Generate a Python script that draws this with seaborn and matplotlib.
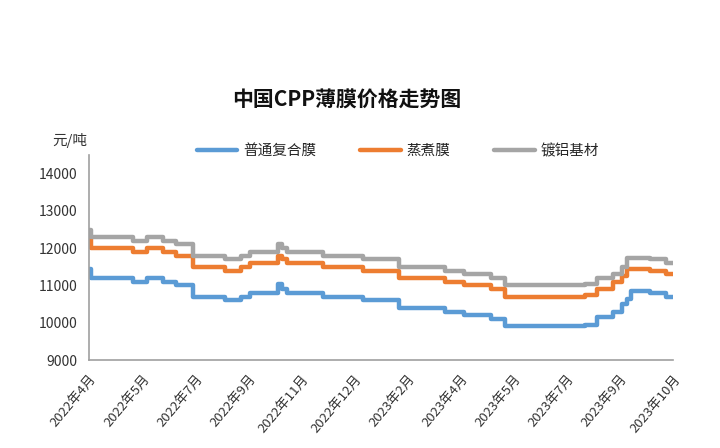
import matplotlib
matplotlib.use("Agg")
import matplotlib.pyplot as plt
import seaborn as sns
import pandas as pd

# trading-day index where each price step starts
change_idx = [0, 1, 25, 33, 42, 49, 59, 77, 86, 91, 107, 109, 112, 132, 155,
              175, 201, 212, 227, 235, 280, 287, 296, 301, 304, 306, 317, 326, 330]
blue_vals = [11450, 11200, 11100, 11200, 11100, 11000, 10700, 10600, 10700, 10800,
             11050, 10900, 10800, 10700, 10600, 10400, 10300, 10200, 10100, 9900,
             9950, 10150, 10300, 10500, 10650, 10850, 10800, 10700, 10700]
orange_vals = [12250, 12000, 11900, 12000, 11900, 11800, 11500, 11400, 11500, 11600,
               11800, 11700, 11600, 11500, 11400, 11200, 11100, 11000, 10900, 10700,
               10750, 10900, 11100, 11250, 11450, 11450, 11400, 11300, 11300]
gray_vals = [12500, 12300, 12200, 12300, 12200, 12100, 11800, 11700, 11800, 11900,
             12100, 12000, 11900, 11800, 11700, 11500, 11400, 11300, 11200, 11000,
             11050, 11200, 11300, 11500, 11750, 11750, 11700, 11600, 11600]
series_names = ["普通复合膜", "蒸煮膜", "镀铝基材"]
tick_idx = [0, 30, 60, 90, 120, 150, 180, 210, 240, 270, 300, 330]
tick_labels = ["2022年4月", "2022年5月", "2022年7月", "2022年9月", "2022年11月", "2022年12月",
               "2023年2月", "2023年4月", "2023年5月", "2023年7月", "2023年9月", "2023年10月"]
y_ticks = [9000, 10000, 11000, 12000, 13000, 14000]

sns.set_style("white")
plt.rcParams['font.family'] = ['Noto Sans CJK SC', 'DejaVu Sans']

frames = []
for name, vals in zip(series_names, [blue_vals, orange_vals, gray_vals]):
    frames.append(pd.DataFrame({"idx": change_idx, "price": vals, "series": name}))
df = pd.concat(frames, ignore_index=True)

palette = {"普通复合膜": "#5B9BD5", "蒸煮膜": "#ED7D31", "镀铝基材": "#A5A5A5"}

fig = plt.figure(figsize=(7.2, 4.48), dpi=100)
ax = fig.add_axes([89/720, 1-360/448, (673-89)/720, (360-155)/448])

sns.lineplot(data=df, x="idx", y="price", hue="series", palette=palette,
             estimator=None, sort=False, drawstyle="steps-post", linewidth=3.2,
             ax=ax, legend=True)

ax.set_xlim(0, 330)
ax.set_ylim(9000, 14500)
ax.set_xticks(tick_idx)
ax.set_xticklabels(tick_labels, rotation=50, ha="right", va="top",
                   rotation_mode="anchor", fontsize=9.5, color="#333333")
ax.set_yticks(y_ticks)
ax.set_yticklabels([str(v) for v in y_ticks], fontsize=10, color="#333333")
ax.set_xlabel("")
ax.set_ylabel("")
for s in ["top", "right"]:
    ax.spines[s].set_visible(False)
for s in ["left", "bottom"]:
    ax.spines[s].set_color("#A0A0A0")
    ax.spines[s].set_linewidth(1.2)
ax.tick_params(axis="both", direction="out", length=5, color="#A0A0A0", width=1.2)
ax.tick_params(axis="x", pad=4)

handles, labels = ax.get_legend_handles_labels()
ax.get_legend().remove()
fig.legend(handles, labels, loc="center", bbox_to_anchor=(398/720, 1-151/448),
           ncol=3, frameon=False, fontsize=10.5, handlelength=2.8,
           columnspacing=3.0, handletextpad=0.4)

fig.text(347/720, 1-100/448, "中国CPP薄膜价格走势图", ha="center", va="center",
         fontsize=15, fontweight="bold", color="#111111")
fig.text(70/720, 1-141/448, "元/吨", ha="center", va="center", fontsize=10.5,
         color="#333333")

fig.savefig("out.png", dpi=100)
